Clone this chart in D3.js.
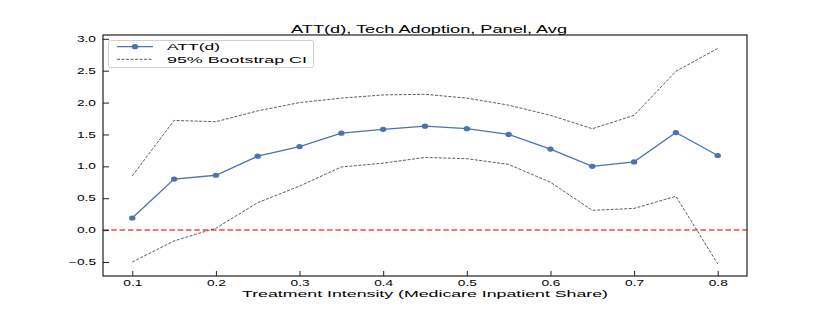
<!DOCTYPE html>
<html>
<head>
<meta charset="utf-8">
<script src="https://cdn.jsdelivr.net/npm/d3@7"></script>
<style>
  html, body { margin: 0; padding: 0; background: #fff; }
  text { font-family: "Liberation Sans", Arial, sans-serif; fill: #000; }
</style>
</head>
<body>
<svg id="chart" width="830" height="310"></svg>
<script>
const intensity = [0.10, 0.15, 0.20, 0.25, 0.30, 0.35, 0.40, 0.45, 0.50, 0.55, 0.60, 0.65, 0.70, 0.75, 0.80];
const att       = [0.19, 0.80, 0.86, 1.16, 1.31, 1.52, 1.58, 1.63, 1.59, 1.50, 1.27, 1.00, 1.07, 1.53, 1.17];
const ciUpper   = [0.85, 1.72, 1.70, 1.87, 2.00, 2.07, 2.12, 2.13, 2.07, 1.96, 1.80, 1.59, 1.80, 2.49, 2.85];
const ciLower   = [-0.50, -0.17, 0.03, 0.43, 0.69, 0.99, 1.05, 1.14, 1.12, 1.03, 0.75, 0.31, 0.34, 0.53, -0.53];
const xTicks = [0.1, 0.2, 0.3, 0.4, 0.5, 0.6, 0.7, 0.8];
const yTicks = [-0.5, 0.0, 0.5, 1.0, 1.5, 2.0, 2.5, 3.0];
const titleText = "ATT(d), Tech Adoption, Panel, Avg";
const xLabelText = "Treatment Intensity (Medicare Inpatient Share)";
const legendLabels = ["ATT(d)", "95% Bootstrap CI"];

const svg = d3.select("#chart");
const L = 103, R = 747, T = 35, B = 276;
const x = d3.scaleLinear().domain([0.065, 0.835]).range([L, R]);
const y = d3.scaleLinear().domain([-0.72, 3.06]).range([B, T]);

const stretch = 1.65;
function widen(sel, factor) {
  sel.each(function() {
    const w = this.getComputedTextLength();
    d3.select(this).attr("textLength", w * factor).attr("lengthAdjust", "spacingAndGlyphs");
  });
}

// zero line
svg.append("line")
  .attr("x1", L).attr("x2", R).attr("y1", y(0)).attr("y2", y(0))
  .attr("stroke", "#ff2020").attr("stroke-opacity", 0.85).attr("stroke-width", 1.5).attr("stroke-dasharray", "5.5,2.8");

const pts = intensity.map((d, i) => ({x: d, att: att[i], up: ciUpper[i], lo: ciLower[i]}));
const line = key => d3.line().x(d => x(d.x)).y(d => y(d[key]));

["up", "lo"].forEach(k => {
  svg.append("path").datum(pts).attr("d", line(k))
    .attr("fill", "none").attr("stroke", "#333").attr("stroke-width", 0.8)
    .attr("stroke-dasharray", "3,1.5");
});

svg.append("path").datum(pts).attr("d", line("att"))
  .attr("fill", "none").attr("stroke", "#4c72b0").attr("stroke-width", 1.3);
svg.selectAll("ellipse.pt").data(pts).join("ellipse").attr("class", "pt")
  .attr("cx", d => x(d.x)).attr("cy", d => y(d.att))
  .attr("rx", 3.2).attr("ry", 2.6).attr("fill", "#4c72b0");

// axes
const xAxis = d3.axisBottom(x).tickValues(xTicks).tickFormat(d3.format(".1f"))
  .tickSizeInner(-5).tickSizeOuter(0).tickPadding(4);
const yAxis = d3.axisLeft(y).tickValues(yTicks).tickFormat(d => d3.format(".1f")(d).replace("-", "\u2212"))
  .tickSizeInner(-6).tickSizeOuter(0).tickPadding(7);

const gx = svg.append("g").attr("transform", `translate(0,${B})`).call(xAxis);
const gy = svg.append("g").attr("transform", `translate(${L},0)`).call(yAxis);
[gx, gy].forEach(g => {
  g.select(".domain").remove();
  g.selectAll(".tick line").attr("stroke", "#222").attr("stroke-width", 1);
  g.selectAll(".tick text").attr("font-size", 8.3).attr("fill", "#000")
    .style("font-family", "'Liberation Sans', Arial, sans-serif");
});
gx.selectAll(".tick text").attr("dy", "0.75em");
widen(gx.selectAll(".tick text"), stretch);
widen(gy.selectAll(".tick text"), stretch);

// frame
svg.append("rect").attr("x", L).attr("y", T).attr("width", R - L).attr("height", B - T)
  .attr("fill", "none").attr("stroke", "#222").attr("stroke-width", 1.2);

// title & label
svg.append("text").attr("x", 429).attr("y", 32.5).attr("text-anchor", "middle")
  .attr("font-size", 11).attr("textLength", 276).attr("lengthAdjust", "spacingAndGlyphs")
  .text(titleText);
svg.append("text").attr("x", 425).attr("y", 296.5).attr("text-anchor", "middle")
  .attr("font-size", 9.8).attr("textLength", 366).attr("lengthAdjust", "spacingAndGlyphs")
  .text(xLabelText);

// legend
const lg = svg.append("g");
lg.append("rect").attr("x", 108.5).attr("y", 40.5).attr("width", 205).attr("height", 27)
  .attr("rx", 2).attr("fill", "#fff").attr("fill-opacity", 0.85)
  .attr("stroke", "#cfcfcf").attr("stroke-width", 1);
const rowY = [46.7, 59.3];
lg.append("line").attr("x1", 117).attr("x2", 153).attr("y1", rowY[0]).attr("y2", rowY[0])
  .attr("stroke", "#4c72b0").attr("stroke-width", 1.3);
lg.append("ellipse").attr("cx", 135).attr("cy", rowY[0]).attr("rx", 3.2).attr("ry", 2.6).attr("fill", "#4c72b0");
lg.append("line").attr("x1", 117).attr("x2", 153).attr("y1", rowY[1]).attr("y2", rowY[1])
  .attr("stroke", "#333").attr("stroke-width", 0.8).attr("stroke-dasharray", "3,1.5");
const lgWidths = [53, 140];
legendLabels.forEach((t, i) => {
  lg.append("text").attr("x", 167).attr("y", rowY[i] + 3.2)
    .attr("font-size", 9).attr("textLength", lgWidths[i]).attr("lengthAdjust", "spacingAndGlyphs")
    .text(t);
});
</script>
</body>
</html>
